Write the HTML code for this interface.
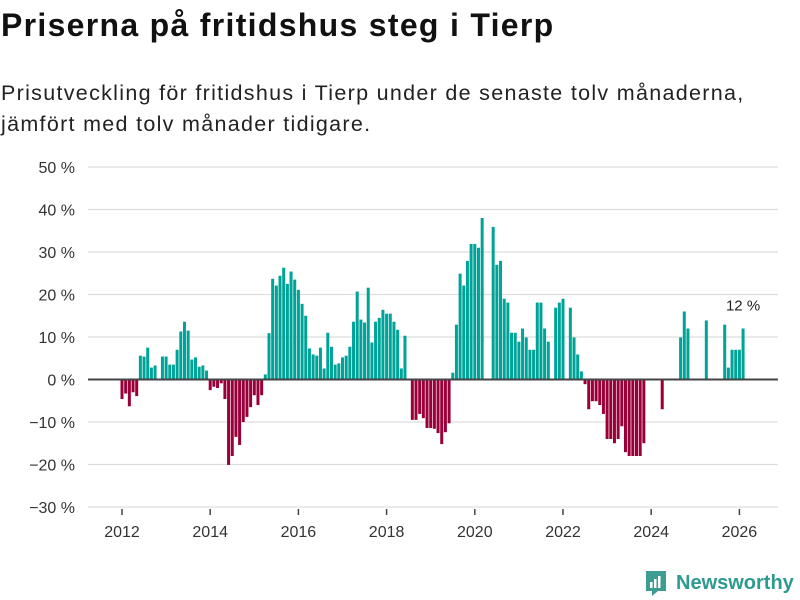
<!DOCTYPE html>
<html><head><meta charset="utf-8"><style>
body{margin:0;width:800px;height:600px;background:#fff;font-family:"Liberation Sans",sans-serif;overflow:hidden;position:relative;color:#111}
#title{position:absolute;left:1px;top:7px;font-size:32px;font-weight:bold;margin:0;letter-spacing:1.3px;white-space:nowrap}
#sub{position:absolute;left:1px;top:78px;font-size:21.5px;line-height:31px;color:#222;margin:0;letter-spacing:1.3px;white-space:nowrap}
#chart{position:absolute;left:0;top:0}
#logo{position:absolute;left:644px;top:569px;display:flex;align-items:center;color:#2f9a8f;font-weight:bold;font-size:20px}
</style></head><body>
<h1 id="title">Priserna på fritidshus steg i Tierp</h1>
<p id="sub">Prisutveckling för fritidshus i Tierp under de senaste tolv månaderna,<br>jämfört med tolv månader tidigare.</p>
<svg id="chart" width="800" height="600"></svg>
<div id="logo"><svg width="24" height="28" viewBox="0 0 24 28"><path d="M2 2h20v20h-8l-6 5v-5H2z" fill="#3d9d93"/><rect x="6" y="13" width="2.5" height="6" fill="#fff"/><rect x="10" y="10" width="2.5" height="9" fill="#fff"/><rect x="14" y="7" width="2.5" height="12" fill="#fff"/></svg><span style="margin-left:8px">Newsworthy</span></div>
<script>
const startYear = 2012;
const values = [-4.6,-3.3,-6.3,-3.0,-3.9,5.6,5.4,7.5,2.8,3.3,null,5.4,
5.4,3.5,3.5,7.0,11.3,13.6,11.5,4.7,5.2,3.0,3.3,2.1,
-2.5,-1.7,-2.0,-0.9,-4.6,-20.1,-18.0,-13.5,-15.4,-10.0,-8.8,-6.5,
-3.7,-6.0,-3.7,1.2,10.9,23.7,22.1,24.4,26.3,22.5,25.4,23.5,
21.1,17.8,15.0,7.3,5.9,5.6,7.5,2.6,11.0,7.7,3.5,3.8,
5.2,5.6,7.7,13.6,20.7,14.1,13.4,21.6,8.7,13.6,14.5,16.4,
15.5,15.5,13.6,11.7,2.6,10.3,null,-9.5,-9.5,-8.1,-9.1,-11.4,
-11.4,-11.6,-12.6,-15.2,-12.4,-10.3,1.6,12.9,24.9,22.1,27.9,31.9,
31.9,31.0,38.0,null,null,35.9,27.0,27.9,19.0,18.1,11.0,11.0,
8.9,12.0,9.9,7.0,7.0,18.1,18.1,12.0,8.9,null,16.9,18.1,
19.0,null,16.9,9.9,5.9,1.9,-1.1,-7.0,-5.1,-5.1,-6.0,-8.1,
-14.0,-14.0,-15.0,-14.0,-11.0,-17.1,-18.0,-18.0,-18.0,-18.0,-15.0,null,
null,null,null,-7.0,null,null,null,null,9.9,16.0,12.0,null,
null,null,null,13.9,null,null,null,null,12.9,2.8,7.0,7.0,
7.0,12.0];
const yTicks = [50,40,30,20,10,0,-10,-20,-30];
const xTicks = [2012,2014,2016,2018,2020,2022,2024,2026];
const lastLabel = "12 %";

const svg = document.getElementById('chart');
const NS = 'http://www.w3.org/2000/svg';
const x0 = 122, monthW = 3.675;
const yTop = 167, pxPer = 4.25, yMax = 50;
const xScale = i => x0 + i * monthW;
const yScale = v => yTop + (yMax - v) * pxPer;
function mk(tag, attrs){const e=document.createElementNS(NS,tag);for(const k in attrs)e.setAttribute(k,attrs[k]);svg.appendChild(e);return e;}

yTicks.forEach(t=>{
  const y=yScale(t);
  if(t!==0){const g=mk('line',{x1:88,x2:778,y1:y,y2:y,stroke:'#ddd','stroke-width':1.3});
  
  }
  const tx=mk('text',{x:75,y:y+6,'text-anchor':'end','font-size':16,fill:'#333','font-family':'Liberation Sans, sans-serif'});
  tx.textContent=(t<0?'\u2212'+(-t):t)+' %';
  
  
});
values.forEach((v,i)=>{
  if(v===null)return;
  const x=xScale(i)-1.5, y1=yScale(Math.max(v,0)), y2=yScale(Math.min(v,0));
  const r=mk('rect',{x:x,y:y1,width:3,height:Math.max(y2-y1,0.5),fill:v>=0?'#00a398':'#990039'});
  
  
});
const z=mk('line',{x1:88,x2:778,y1:yScale(0),y2:yScale(0),stroke:'#444','stroke-width':2});


xTicks.forEach(yr=>{
  const x=xScale((yr-startYear)*12);
  const tk=mk('line',{x1:x,x2:x,y1:509,y2:515,stroke:'#444','stroke-width':1.5});
  
  
  const tx=mk('text',{x:x,y:537,'text-anchor':'middle','font-size':16,fill:'#333','font-family':'Liberation Sans, sans-serif'});
  tx.textContent=yr;
  
  
});
const li=values.length-1;
const lbl=mk('text',{x:xScale(li),y:yScale(values[li])-18,'text-anchor':'middle','font-size':15,fill:'#222','font-family':'Liberation Sans, sans-serif'});
lbl.textContent=lastLabel;


</script>
</body></html>
